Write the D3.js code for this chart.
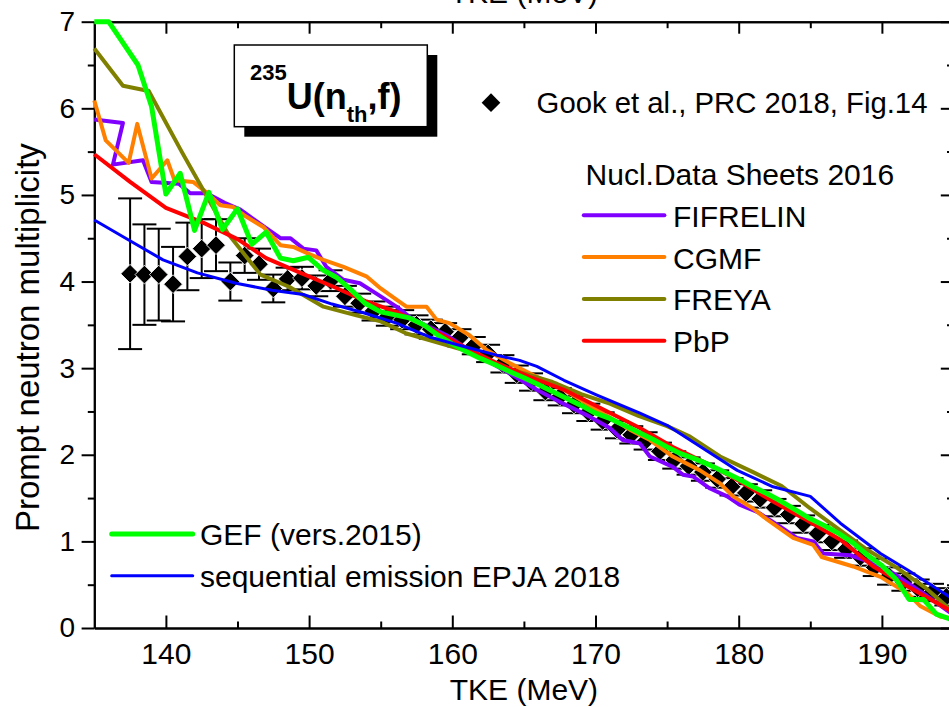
<!DOCTYPE html>
<html>
<head>
<meta charset="utf-8">
<script src="https://cdn.jsdelivr.net/npm/d3@7"></script>
<style>
  html, body { margin: 0; padding: 0; background: #fff; overflow: hidden; }
  svg { display: block; font-family: "Liberation Sans", Arial, Helvetica, sans-serif; }
</style>
</head>
<body>
<svg id="chart" width="949" height="707"></svg>
<script>
// ---- axis ticks ----
const xMajorTicks = [140, 150, 160, 170, 180, 190];
const xMinorTicks = [145, 155, 165, 175, 185];
const yMajorTicks = [0, 1, 2, 3, 4, 5, 6, 7];
const yMinorTicks = [0.5, 1.5, 2.5, 3.5, 4.5, 5.5, 6.5];

// ---- experiment: Gook et al., PRC 2018 ----
const expTKE = [137.5, 138.5, 139.5, 140.5, 141.5, 142.5, 143.5, 144.5, 145.5, 146.5,
  147.5, 148.5, 149.5, 150.5, 151.5, 152.5, 153.5, 154.5, 155.5, 156.5,
  157.5, 158.5, 159.5, 160.5, 161.5, 162.5, 163.5, 164.5, 165.5, 166.5,
  167.5, 168.5, 169.5, 170.5, 171.5, 172.5, 173.5, 174.5, 175.5, 176.5,
  177.5, 178.5, 179.5, 180.5, 181.5, 182.5, 183.5, 184.5, 185.5, 186.5,
  187.5, 188.5, 189.5, 190.5, 191.5, 192.5, 193.5, 194.5];
const expNu = [4.09, 4.08, 4.08, 3.97, 4.29, 4.38, 4.42, 4.00, 4.30, 4.20,
  3.92, 4.03, 4.04, 3.95, 4.01, 3.83, 3.75, 3.66, 3.60, 3.56,
  3.50, 3.45, 3.42, 3.35, 3.26, 3.17, 3.05, 2.93, 2.84, 2.73,
  2.67, 2.58, 2.49, 2.39, 2.29, 2.23, 2.16, 2.04, 1.94, 1.87,
  1.80, 1.72, 1.63, 1.56, 1.49, 1.39, 1.31, 1.20, 1.09, 1.00,
  0.91, 0.82, 0.70, 0.60, 0.53, 0.46, 0.41, 0.36];
const expErr = [0.87, 0.58, 0.53, 0.43, 0.39, 0.34, 0.30, 0.22, 0.20, 0.18,
  0.16, 0.13, 0.13, 0.12, 0.12, 0.12, 0.11, 0.11, 0.11, 0.11,
  0.11, 0.11, 0.10, 0.10, 0.10, 0.10, 0.10, 0.10, 0.10, 0.10,
  0.10, 0.10, 0.10, 0.10, 0.10, 0.10, 0.10, 0.10, 0.10, 0.10,
  0.10, 0.10, 0.10, 0.10, 0.10, 0.10, 0.10, 0.10, 0.10, 0.10,
  0.10, 0.10, 0.10, 0.10, 0.10, 0.10, 0.10, 0.10];

// ---- model curves [TKE, multiplicity] ----
const fifrelin = [[135, 5.87], [137.0, 5.83], [136.3, 5.35], [138.4, 5.40], [139.0, 5.15],
  [140.9, 5.13], [141.7, 5.02], [142.85, 5.02], [144.1, 4.91], [145.2, 4.83], [146.8, 4.64],
  [148.0, 4.50], [148.7, 4.50], [149.6, 4.38], [150.5, 4.36], [151.2, 4.17], [152.4, 4.02],
  [153.55, 3.98], [154.7, 3.86], [156.1, 3.71], [157.2, 3.57], [159.6, 3.38], [161.7, 3.15],
  [163.6, 2.98], [165.9, 2.75], [167.75, 2.59], [169.6, 2.44], [171.0, 2.31], [171.9, 2.17],
  [173.1, 2.13], [173.8, 1.98], [175.4, 1.86], [176.1, 1.77], [176.8, 1.75], [178.0, 1.61],
  [179.2, 1.52], [180.1, 1.42], [181.3, 1.34], [182.9, 1.17], [184.05, 1.04], [185.2, 1.00],
  [185.9, 0.86], [187.8, 0.84], [189.4, 0.75], [190.8, 0.63], [192.9, 0.40], [195, 0.15]];

const cgmf = [[135, 6.09], [135.8, 5.63], [137.4, 5.37], [138.0, 5.82], [139.0, 5.19],
  [140.1, 5.40], [140.6, 5.17], [141.9, 5.15], [142.9, 5.02], [143.8, 4.88], [144.7, 4.86],
  [145.6, 4.75], [146.8, 4.63], [148.0, 4.42], [148.9, 4.40], [150.1, 4.31], [151.0, 4.25],
  [152.4, 4.17], [154.0, 4.06], [155.0, 3.92], [156.1, 3.79], [156.8, 3.71], [158.2, 3.71],
  [158.9, 3.56], [159.8, 3.52], [161.2, 3.38], [162.4, 3.21], [164.0, 3.06], [165.4, 2.94],
  [167.8, 2.75], [170.1, 2.52], [172.4, 2.29], [173.8, 2.17], [175.4, 1.98], [177.3, 1.82],
  [178.7, 1.67], [179.6, 1.52], [181.0, 1.38], [182.0, 1.25], [183.8, 1.04], [185.2, 0.96],
  [185.8, 0.82], [188.0, 0.71], [189.9, 0.59], [191.8, 0.40], [192.7, 0.25], [194.1, 0.13],
  [195, 0.11]];

const freya = [[135, 6.69], [137.0, 6.26], [138.8, 6.20], [141.1, 5.50], [144.3, 4.56],
  [145.6, 4.29], [146.6, 4.08], [148.6, 3.94], [151.0, 3.71], [153.3, 3.61], [155.0, 3.54],
  [156.8, 3.40], [160.8, 3.21], [163.0, 3.04], [165.0, 2.94], [167.0, 2.84], [169.0, 2.70],
  [171.0, 2.59], [173.0, 2.45], [175.0, 2.33], [176.6, 2.21], [178.7, 1.98], [181.0, 1.80],
  [183.0, 1.64], [185.0, 1.38], [187.0, 1.14], [189.0, 0.90], [191.0, 0.70], [193.0, 0.47],
  [195, 0.18]];

const pbp = [[135, 5.47], [137.5, 5.15], [140.0, 4.85], [142.6, 4.68], [145.0, 4.49],
  [147.0, 4.27], [149.4, 4.10], [151.7, 3.94], [154.0, 3.77], [156.1, 3.65], [158.4, 3.46],
  [160.8, 3.25], [163.1, 3.06], [165.4, 2.90], [167.8, 2.75], [170.1, 2.56], [173.1, 2.31],
  [175.4, 2.09], [177.8, 1.90], [180.1, 1.69], [182.4, 1.46], [184.7, 1.25], [187.1, 1.02],
  [189.4, 0.71], [191.8, 0.48], [195, 0.18]];

const gef = [[135, 7.0], [136, 7.0], [138.05, 6.50], [139.0, 6.02], [140.0, 5.01],
  [141.0, 5.25], [142.0, 4.59], [143.0, 5.03], [143.95, 4.60], [145.0, 4.84], [146.0, 4.43],
  [147.0, 4.57], [148.0, 4.27], [148.9, 4.24], [149.95, 4.28], [151.0, 4.13], [151.9, 4.05],
  [152.9, 3.91], [153.9, 3.75], [155.0, 3.65], [157.0, 3.58], [158.0, 3.50], [159.0, 3.38],
  [160.0, 3.28], [161.0, 3.19], [162.0, 3.11], [163.0, 3.04], [164.0, 2.96], [165.0, 2.89],
  [166.0, 2.81], [167.0, 2.73], [168.0, 2.65], [169.0, 2.57], [170.0, 2.48], [171.0, 2.42],
  [172.0, 2.34], [173.0, 2.26], [174.0, 2.18], [175.0, 2.09], [176.0, 2.01], [177.0, 1.95],
  [178.0, 1.88], [179.0, 1.80], [180.0, 1.72], [181.0, 1.63], [182.0, 1.55], [183.0, 1.46],
  [184.0, 1.36], [185.0, 1.26], [186.0, 1.18], [187.0, 1.09], [188.0, 0.98], [189.0, 0.84],
  [190.0, 0.72], [191.0, 0.56], [191.9, 0.33], [192.9, 0.33], [193.8, 0.16], [195, 0.09]];

const sequential = [[135, 4.71], [137.4, 4.48], [139.8, 4.25], [142.2, 4.10], [144.9, 3.98],
  [147.4, 3.90], [149.6, 3.85], [151.6, 3.74], [153.8, 3.64], [156.1, 3.52], [158.4, 3.36],
  [160.8, 3.25], [163.1, 3.15], [164.7, 3.09], [165.9, 3.02], [167.8, 2.86], [170.1, 2.69],
  [173.1, 2.48], [175.0, 2.34], [176.6, 2.17], [178.2, 2.00], [179.9, 1.82], [182.4, 1.63],
  [185.0, 1.52], [187.1, 1.21], [189.9, 0.86], [191.8, 0.67], [195, 0.33]];

// ---- layout ----
const plotLeft = 94.3, plotTop = 21.7, plotRight = 953.5, plotBottom = 628;
const svg = d3.select("#chart");
const x = d3.scaleLinear().domain([135, 195]).range([plotLeft, plotRight]);
const y = d3.scaleLinear().domain([0, 7]).range([plotBottom, plotTop]);

// ---- axes ----
function styleAxis(g) {
  g.selectAll("path.domain").attr("stroke", "#000").attr("stroke-width", 2);
  g.selectAll(".tick line").attr("stroke", "#000").attr("stroke-width", 2);
}
// bottom
svg.append("g").attr("transform", `translate(0,${plotBottom})`)
  .call(d3.axisBottom(x).tickValues(xMajorTicks).tickSizeInner(-12.5).tickSizeOuter(0).tickPadding(15).tickFormat(d3.format("d")))
  .call(styleAxis)
  .call(g => g.selectAll("text").attr("font-size", 30).attr("fill", "#000"));
svg.append("g").attr("transform", `translate(0,${plotBottom})`)
  .call(d3.axisBottom(x).tickValues(xMinorTicks).tickSizeInner(-6.5).tickSizeOuter(0).tickFormat(""))
  .call(styleAxis);
// top
svg.append("g").attr("transform", `translate(0,${plotTop})`)
  .call(d3.axisTop(x).tickValues(xMajorTicks).tickSizeInner(-12).tickSizeOuter(0).tickFormat(""))
  .call(styleAxis);
svg.append("g").attr("transform", `translate(0,${plotTop})`)
  .call(d3.axisTop(x).tickValues(xMinorTicks).tickSizeInner(-6.5).tickSizeOuter(0).tickFormat(""))
  .call(styleAxis);
// left
svg.append("g").attr("transform", `translate(${plotLeft},0)`)
  .call(d3.axisLeft(y).tickValues(yMajorTicks).tickSizeInner(12.7).tickSizeOuter(0).tickPadding(6.5).tickFormat(d3.format("d")))
  .call(styleAxis)
  .call(g => g.selectAll("text").attr("font-size", 28).attr("fill", "#000"));
svg.append("g").attr("transform", `translate(${plotLeft},0)`)
  .call(d3.axisLeft(y).tickValues(yMinorTicks).tickSizeInner(6.5).tickSizeOuter(0).tickFormat(""))
  .call(styleAxis);
// right
svg.append("g").attr("transform", `translate(${plotRight},0)`)
  .call(d3.axisRight(y).tickValues(yMajorTicks).tickSizeInner(-12.7).tickSizeOuter(0).tickFormat(""))
  .call(styleAxis);
svg.append("g").attr("transform", `translate(${plotRight},0)`)
  .call(d3.axisRight(y).tickValues(yMinorTicks).tickSizeInner(-6.5).tickSizeOuter(0).tickFormat(""))
  .call(styleAxis);
svg.selectAll("g").attr("font-family", null);

// axis titles (the top axis repeats the title at the upper edge)
svg.append("text").attr("x", (plotLeft + plotRight) / 2).attr("y", 700)
  .attr("text-anchor", "middle").attr("font-size", 30).text("TKE (MeV)");
svg.append("text").attr("x", (plotLeft + plotRight) / 2).attr("y", 3)
  .attr("text-anchor", "middle").attr("font-size", 30).text("TKE (MeV)");
svg.append("text").attr("transform", "translate(39,532) rotate(-90)")
  .attr("text-anchor", "start").attr("font-size", 33).text("Prompt neutron multiplicity");

// ---- experimental points with error bars ----
const exp = expTKE.map((e, i) => ({ e, v: expNu[i], err: expErr[i] }));
const capHalf = 12;
const eb = svg.append("g").attr("stroke", "#000").attr("stroke-width", 2);
eb.selectAll("line.v").data(exp).join("line").attr("class", "v")
  .attr("x1", d => x(d.e)).attr("x2", d => x(d.e))
  .attr("y1", d => y(d.v - d.err)).attr("y2", d => y(d.v + d.err));
eb.selectAll("line.t").data(exp).join("line").attr("class", "t")
  .attr("x1", d => x(d.e) - capHalf).attr("x2", d => x(d.e) + capHalf)
  .attr("y1", d => y(d.v + d.err)).attr("y2", d => y(d.v + d.err));
eb.selectAll("line.b").data(exp).join("line").attr("class", "b")
  .attr("x1", d => x(d.e) - capHalf).attr("x2", d => x(d.e) + capHalf)
  .attr("y1", d => y(d.v - d.err)).attr("y2", d => y(d.v - d.err));

const diamond = d3.symbol().type(d3.symbolSquare).size(175);
svg.append("g").selectAll("path").data(exp).join("path")
  .attr("d", diamond)
  .attr("transform", d => `translate(${x(d.e)},${y(d.v)}) rotate(45)`)
  .attr("fill", "#000").attr("stroke", "#fff").attr("stroke-width", 0.8);

// ---- model curves ----
const line = d3.line().x(d => x(d[0])).y(d => y(d[1]));
const series = [
  { data: fifrelin, color: "#8000ff", w: 4 },
  { data: cgmf, color: "#ff8000", w: 4 },
  { data: freya, color: "#808000", w: 4 },
  { data: pbp, color: "#ff0000", w: 4 },
  { data: gef, color: "#00ff00", w: 5 },
  { data: sequential, color: "#0000ff", w: 3 }
];
svg.append("g").selectAll("path").data(series).join("path")
  .attr("d", d => line(d.data))
  .attr("fill", "none").attr("stroke", d => d.color).attr("stroke-width", d => d.w)
  .attr("stroke-linejoin", "round").attr("stroke-linecap", "butt");

// ---- reaction label box ----
const box = svg.append("g");
box.append("rect").attr("x", 244.3).attr("y", 55).attr("width", 193).attr("height", 81.7).attr("fill", "#000");
box.append("rect").attr("x", 234.3).attr("y", 45).attr("width", 193).attr("height", 81.7)
  .attr("fill", "#fff").attr("stroke", "#000").attr("stroke-width", 1.5);
const lbl = box.append("text").attr("x", 250).attr("y", 109).attr("font-weight", "bold");
lbl.append("tspan").attr("font-size", 22).attr("dy", -29).text("235");
lbl.append("tspan").attr("font-size", 36).attr("dy", 29).text("U(n");
lbl.append("tspan").attr("font-size", 22).attr("dy", 13).text("th");
lbl.append("tspan").attr("font-size", 36).attr("dy", -13).text(",f)");

// ---- legends ----
const lg = svg.append("g").attr("font-size", 30).attr("fill", "#000");
lg.append("path").attr("d", d3.symbol().type(d3.symbolSquare).size(175))
  .attr("transform", "translate(491,102.7) rotate(45)").attr("fill", "#000");
lg.append("text").attr("x", 536.6).attr("y", 113).attr("font-size", 29.3).text("Gook et al., PRC 2018, Fig.14");
lg.append("text").attr("x", 585.6).attr("y", 185).text("Nucl.Data Sheets 2016");

const ndsLegend = [
  { name: "FIFRELIN", color: "#8000ff" },
  { name: "CGMF", color: "#ff8000" },
  { name: "FREYA", color: "#808000" },
  { name: "PbP", color: "#ff0000" }
];
ndsLegend.forEach((d, i) => {
  const yy = 215.3 + i * 41.8;
  lg.append("line").attr("x1", 583.8).attr("x2", 664.4).attr("y1", yy).attr("y2", yy)
    .attr("stroke", d.color).attr("stroke-width", 4).attr("stroke-linecap", "round");
  lg.append("text").attr("x", 673).attr("y", yy + 11.4).text(d.name);
});

const lowLegend = [
  { name: "GEF (vers.2015)", color: "#00ff00", w: 5 },
  { name: "sequential emission EPJA 2018", color: "#0000ff", w: 3 }
];
lowLegend.forEach((d, i) => {
  const yy = 534 + i * 41.7;
  lg.append("line").attr("x1", 111.7).attr("x2", 192.7).attr("y1", yy).attr("y2", yy)
    .attr("stroke", d.color).attr("stroke-width", d.w).attr("stroke-linecap", "round");
  lg.append("text").attr("x", 200).attr("y", yy + 11.2).text(d.name);
});
</script>
</body>
</html>
